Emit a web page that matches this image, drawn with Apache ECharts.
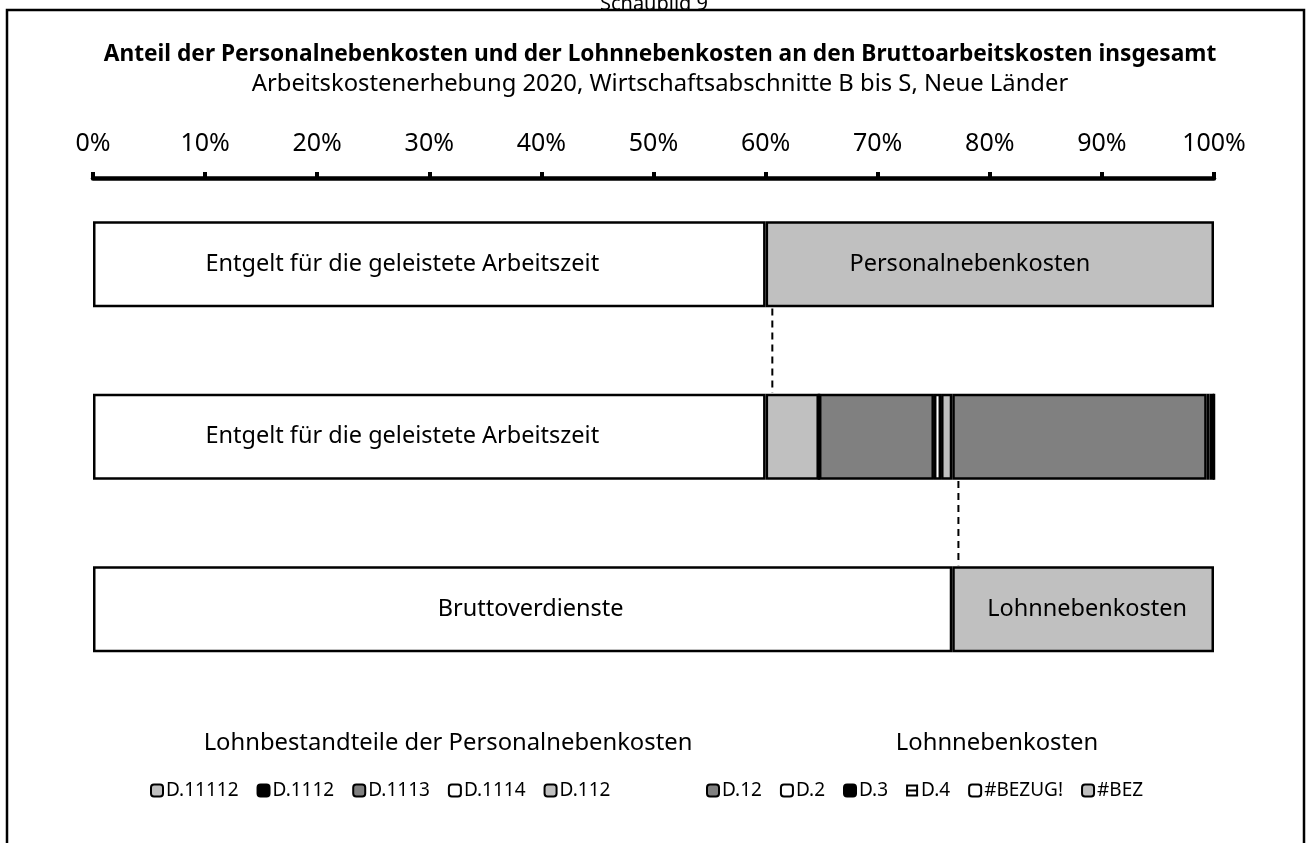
<!DOCTYPE html>
<html>
<head>
<meta charset="utf-8">
<script src="https://cdn.jsdelivr.net/npm/echarts@6/dist/echarts.min.js"></script>
<style>
html,body{margin:0;padding:0;background:#fff;}
#chart{width:1308px;height:843px;}
</style>
</head>
<body>
<div id="chart"></div>
<script>
// ---- data ----
const categories = ['Personalnebenkosten', 'Bestandteile', 'Lohnnebenkosten'];
const xTicks = [0, 10, 20, 30, 40, 50, 60, 70, 80, 90, 100];

// segment series: values per bar (percent)
const entgelt            = [60.0, 60.0, null];
const personalnebenk     = [40.0, null, null];
const bruttoverdienste   = [null, null, 76.65];
const lohnnebenk         = [null, null, 23.35];
const d11112 = [null, 4.76, null];
const d1112  = [null, 0.0, null];
const d1113  = [null, 10.26, null];
const d1114  = [null, 0.63, null];
const d112   = [null, 1.0, null];
const d12    = [null, 22.7, null];
const d2     = [null, 0.25, null];
const d3     = [null, 0.4, null];
const d4     = [null, 0.0, null];
const bezug  = [null, null, null];
const bez    = [null, null, null];

// bar label texts
const entgeltLabels = ['Entgelt für die geleistete Arbeitszeit', 'Entgelt für die geleistete Arbeitszeit', ''];
const pnkLabels = ['Personalnebenkosten', '', ''];
const bvLabels = ['', '', 'Bruttoverdienste'];
const lnkLabels = ['', '', 'Lohnnebenkosten'];

// dashed connectors: x position (%), from bar index, to bar index
const connectors = [[60.6, 0, 1], [77.2, 1, 2]];

const legendLeft = ['D.11112', 'D.1112', 'D.1113', 'D.1114', 'D.112'];
const legendRight = ['D.12', 'D.2', 'D.3', 'D.4', '#BEZUG!', '#BEZ'];

// ---- styles ----
const WHITE = '#ffffff', LIGHT = '#c0c0c0', DARK = '#808080', BLACK = '#000000';
const FONT = '"Noto Sans", "Open Sans", sans-serif';

function barSeries(name, values, color, labels, offset) {
  const s = {
    name: name,
    type: 'bar',
    stack: 'total',
    barWidth: 86,
    data: values.map(v => v === null ? '-' : v),
    itemStyle: { color: color, borderColor: '#000', borderWidth: 2.5 },
    emphasis: { disabled: true },
    label: { show: false }
  };
  if (labels) {
    s.label = {
      show: true,
      position: 'inside',
      offset: offset || [0, 0],
      fontFamily: FONT,
      fontSize: 23.5,
      color: '#000',
      formatter: p => labels[p.dataIndex] || ''
    };
  }
  return s;
}

const series = [
  barSeries('Entgelt', entgelt, WHITE, entgeltLabels, [-27, 0]),
  barSeries('PNK', personalnebenk, LIGHT, pnkLabels, [-20, 0]),
  barSeries('BV', bruttoverdienste, WHITE, bvLabels, [8, 0]),
  barSeries('LNK', lohnnebenk, LIGHT, lnkLabels, [4, 0]),
  barSeries('D.11112', d11112, LIGHT),
  barSeries('D.1112', d1112, BLACK),
  barSeries('D.1113', d1113, DARK),
  barSeries('D.1114', d1114, WHITE),
  barSeries('D.112', d112, LIGHT),
  barSeries('D.12', d12, DARK),
  barSeries('D.2', d2, WHITE),
  barSeries('D.3', d3, BLACK),
  barSeries('D.4', d4, WHITE),
  barSeries('#BEZUG!', bezug, WHITE),
  barSeries('#BEZ', bez, LIGHT),
  {
    name: 'connectors',
    type: 'custom',
    z: 10,
    data: connectors,
    encode: { x: 0, y: 1 },
    renderItem: function (params, api) {
      const xv = api.value(0);
      const p0 = api.coord([xv, api.value(1)]);
      const p1 = api.coord([xv, api.value(2)]);
      const half = api.size([0, 1])[1] * 0.5 / 2;
      return {
        type: 'line',
        shape: { x1: p0[0], y1: p0[1] + half + 1, x2: p1[0], y2: p1[1] - half - 1 },
        style: { stroke: '#000', lineWidth: 2, lineDash: [7, 5] }
      };
    }
  }
];

function legendData(names) {
  return names.map(n => {
    if (n === 'D.4') {
      return { name: n, icon: 'path://M0,0H12V12H0Z M2,2V5H10V2Z M2,7V10H10V7Z', itemStyle: { color: '#000', borderWidth: 0 } };
    }
    return { name: n, icon: 'roundRect' };
  });
}
const legendCommon = {
  orient: 'horizontal',
  itemWidth: 12,
  itemHeight: 12,
  itemGap: 18,
  textStyle: { fontFamily: FONT, fontSize: 19, color: '#000', padding: [0, 0, 0, -2] },
  itemStyle: { borderColor: '#000', borderWidth: 2 },
  selectedMode: false,
  top: 776
};

const chart = echarts.init(document.getElementById('chart'), null, { renderer: 'canvas' });
chart.setOption({
  backgroundColor: '#fff',
  animation: false,
  textStyle: { fontFamily: FONT },
  grid: { left: 93, right: 94, top: 178, height: 517.5, containLabel: false },
  xAxis: {
    type: 'value',
    position: 'top',
    min: 0,
    max: 100,
    interval: 10,
    axisLine: { show: true, lineStyle: { color: '#000', width: 4.5 } },
    axisTick: { show: true, length: 6, lineStyle: { color: '#000', width: 4 } },
    splitLine: { show: false },
    axisLabel: { fontFamily: FONT, fontSize: 25, color: '#000', margin: 22, formatter: '{value}%' }
  },
  yAxis: {
    type: 'category',
    inverse: true,
    data: categories,
    axisLine: { show: false },
    axisTick: { show: false },
    axisLabel: { show: false }
  },
  legend: [
    Object.assign({}, legendCommon, { left: 145, data: legendData(legendLeft) }),
    Object.assign({}, legendCommon, { left: 701, data: legendData(legendRight) })
  ],
  graphic: [
    { type: 'rect', z: -1, shape: { x: 7, y: 10, width: 1297, height: 900 }, style: { fill: 'none', stroke: '#000', lineWidth: 2.5 } },
    { type: 'text', x: 654, y: 14, style: { text: 'Schaubild 9', fontFamily: FONT, fontSize: 20, fill: '#000', textAlign: 'center', textVerticalAlign: 'bottom' } },
    { type: 'text', x: 660, y: 55, style: { text: 'Anteil der Personalnebenkosten und der Lohnnebenkosten an den Bruttoarbeitskosten insgesamt', fontFamily: FONT, fontWeight: 'bold', fontSize: 22.7, fill: '#000', textAlign: 'center', textVerticalAlign: 'middle' } },
    { type: 'text', x: 660, y: 84, style: { text: 'Arbeitskostenerhebung 2020, Wirtschaftsabschnitte B bis S, Neue Länder', fontFamily: FONT, fontSize: 23.8, fill: '#000', textAlign: 'center', textVerticalAlign: 'middle' } },
    { type: 'text', x: 448, y: 743, style: { text: 'Lohnbestandteile der Personalnebenkosten', fontFamily: FONT, fontSize: 23.8, fill: '#000', textAlign: 'center', textVerticalAlign: 'middle' } },
    { type: 'text', x: 997, y: 743, style: { text: 'Lohnnebenkosten', fontFamily: FONT, fontSize: 23.8, fill: '#000', textAlign: 'center', textVerticalAlign: 'middle' } }
  ],
  series: series
});
</script>
</body>
</html>
